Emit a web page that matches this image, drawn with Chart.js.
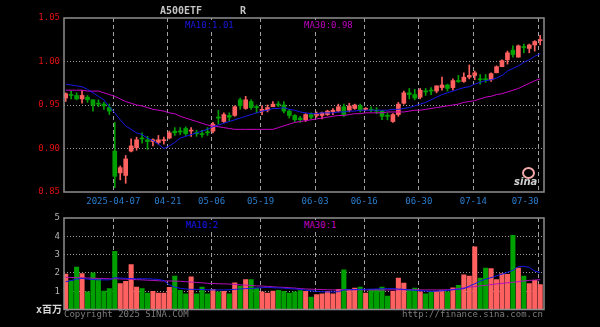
<!DOCTYPE html>
<html><head><meta charset="utf-8">
<script src="https://cdn.jsdelivr.net/npm/chart.js@4/dist/chart.umd.min.js"></script>
<style>
html,body{margin:0;padding:0;background:#000;}
#root{position:relative;width:600px;height:327px;overflow:hidden;background:#000;}
canvas{position:absolute;left:0;}
.t{position:absolute;white-space:nowrap;font-family:"DejaVu Sans Mono",monospace;font-size:9px;line-height:10px;}
.bg{background:#000;}
</style></head>
<body><div id="root">
<canvas id="c1" width="600" height="210" style="top:0"></canvas>
<canvas id="c2" width="600" height="122" style="top:205px"></canvas>
<div class="t" style="left:160px;top:6px;font-size:10px;font-weight:bold;color:#c4c4c4">A500ETF</div>
<div class="t" style="left:240px;top:6px;font-size:10px;font-weight:bold;color:#c4c4c4">R</div>
<div class="t bg" id="lbMa10" style="left:185px;top:20px;color:#1818e0"></div>
<div class="t bg" id="lbMa30" style="left:304px;top:20px;color:#c000c0"></div>
<div class="t bg" id="lbVMa10" style="left:186px;top:220px;color:#1818e0"></div>
<div class="t bg" id="lbVMa30" style="left:304px;top:220px;color:#c000c0"></div>
<div class="t" style="left:36px;top:304px;font-family:'DejaVu Sans Mono','Noto Sans CJK SC';font-size:10px;line-height:12px;color:#d8d8d8;font-weight:bold">x百万</div>
<div class="t" style="left:64px;top:309px;color:#7c7c7c">Copyright 2025 SINA.COM</div>
<div class="t" style="left:402px;top:309px;color:#7c7c7c">http://finance.sina.com.cn</div>
<div style="position:absolute;left:522px;top:167px;width:9px;height:8px;border:2px solid #f0a8a8;border-radius:50%"></div>
<div class="t" style="left:514px;top:177px;font-family:'DejaVu Sans';font-style:italic;font-weight:bold;font-size:10px;color:#cfcfcf">sina</div>
</div>
<script>
const dates = ['2025-03-24','2025-03-25','2025-03-26','2025-03-27','2025-03-28','2025-03-31',
'2025-04-01','2025-04-02','2025-04-03','2025-04-07','2025-04-08','2025-04-09','2025-04-10','2025-04-11',
'2025-04-14','2025-04-15','2025-04-16','2025-04-17','2025-04-18','2025-04-21','2025-04-22','2025-04-23','2025-04-24','2025-04-25',
'2025-04-28','2025-04-29','2025-04-30','2025-05-06','2025-05-07','2025-05-08','2025-05-09',
'2025-05-12','2025-05-13','2025-05-14','2025-05-15','2025-05-16','2025-05-19','2025-05-20','2025-05-21','2025-05-22','2025-05-23',
'2025-05-26','2025-05-27','2025-05-28','2025-05-29','2025-05-30','2025-06-03','2025-06-04','2025-06-05','2025-06-06',
'2025-06-09','2025-06-10','2025-06-11','2025-06-12','2025-06-13','2025-06-16','2025-06-17','2025-06-18','2025-06-19','2025-06-20',
'2025-06-23','2025-06-24','2025-06-25','2025-06-26','2025-06-27','2025-06-30','2025-07-01','2025-07-02','2025-07-03','2025-07-04',
'2025-07-07','2025-07-08','2025-07-09','2025-07-10','2025-07-11','2025-07-14','2025-07-15','2025-07-16','2025-07-17','2025-07-18',
'2025-07-21','2025-07-22','2025-07-23','2025-07-24','2025-07-25','2025-07-28','2025-07-29','2025-07-30'];

const open = [0.958,0.962,0.961,0.957,0.959,0.956,0.952,0.951,0.947,0.897,
0.872,0.869,0.897,0.901,0.912,0.910,0.908,0.907,0.909,0.912,
0.920,0.920,0.923,0.920,0.918,0.917,0.919,0.920,0.936,0.931,
0.938,0.938,0.956,0.946,0.954,0.948,0.943,0.944,0.948,0.951,
0.950,0.943,0.938,0.935,0.933,0.939,0.938,0.938,0.939,0.942,
0.943,0.948,0.944,0.946,0.949,0.945,0.945,0.944,0.943,0.938,
0.931,0.939,0.952,0.964,0.962,0.959,0.966,0.967,0.966,0.970,
0.973,0.970,0.978,0.977,0.982,0.984,0.980,0.980,0.979,0.987,
0.994,1.002,1.013,1.005,1.017,1.015,1.019,1.024];

const close = [0.963,0.961,0.957,0.961,0.956,0.950,0.951,0.949,0.943,0.868,
0.878,0.888,0.903,0.910,0.911,0.908,0.910,0.910,0.910,0.918,
0.918,0.919,0.917,0.921,0.917,0.916,0.918,0.928,0.935,0.939,
0.936,0.948,0.949,0.956,0.947,0.947,0.945,0.947,0.951,0.950,
0.943,0.938,0.933,0.933,0.939,0.936,0.940,0.941,0.943,0.944,
0.948,0.939,0.949,0.950,0.944,0.946,0.944,0.943,0.937,0.937,
0.939,0.951,0.964,0.962,0.958,0.967,0.965,0.966,0.972,0.973,
0.969,0.978,0.977,0.982,0.984,0.987,0.979,0.979,0.986,0.994,
1.001,1.010,1.008,1.018,1.016,1.019,1.023,1.025];

const high = [0.964,0.966,0.964,0.967,0.961,0.956,0.956,0.953,0.951,0.930,
0.880,0.892,0.911,0.913,0.918,0.914,0.911,0.915,0.913,0.920,
0.924,0.924,0.925,0.924,0.921,0.921,0.924,0.930,0.944,0.941,
0.941,0.949,0.958,0.960,0.956,0.950,0.949,0.950,0.954,0.954,
0.954,0.945,0.939,0.937,0.940,0.941,0.942,0.942,0.944,0.946,
0.951,0.951,0.952,0.951,0.951,0.947,0.948,0.947,0.944,0.941,
0.940,0.953,0.966,0.969,0.968,0.969,0.969,0.970,0.972,0.982,
0.974,0.980,0.984,0.987,0.996,0.989,0.985,0.985,0.987,0.995,
1.002,1.012,1.018,1.019,1.020,1.020,1.024,1.030];

const low = [0.954,0.957,0.956,0.952,0.953,0.943,0.948,0.945,0.939,0.855,
0.864,0.860,0.896,0.898,0.906,0.899,0.903,0.905,0.905,0.911,
0.915,0.916,0.915,0.914,0.914,0.913,0.915,0.918,0.928,0.930,
0.932,0.937,0.945,0.945,0.945,0.941,0.939,0.942,0.948,0.948,
0.941,0.935,0.931,0.930,0.931,0.934,0.936,0.934,0.938,0.939,
0.942,0.937,0.942,0.945,0.942,0.944,0.942,0.940,0.933,0.933,
0.930,0.937,0.951,0.957,0.956,0.957,0.961,0.962,0.964,0.967,
0.966,0.967,0.976,0.976,0.980,0.979,0.974,0.976,0.977,0.987,
0.994,0.997,1.005,1.005,1.010,1.010,1.012,1.019];

const ma10 = [0.974,0.973,0.972,0.971,0.968,0.964,0.960,0.956,0.948,0.941,
0.933,0.926,0.922,0.918,0.916,0.912,0.909,0.905,0.900,0.903,
0.907,0.912,0.914,0.916,0.918,0.920,0.922,0.925,0.927,0.929,
0.931,0.933,0.935,0.937,0.939,0.941,0.943,0.944,0.946,0.946,
0.947,0.945,0.944,0.942,0.941,0.940,0.940,0.941,0.941,0.941,
0.942,0.942,0.943,0.943,0.944,0.944,0.944,0.944,0.944,0.944,
0.945,0.945,0.946,0.947,0.949,0.951,0.953,0.956,0.959,0.962,
0.964,0.966,0.968,0.970,0.971,0.974,0.976,0.978,0.979,0.981,
0.984,0.989,0.992,0.995,0.999,1.002,1.006,1.009];

const ma30 = [0.967,0.967,0.967,0.967,0.966,0.966,0.966,0.964,0.962,0.960,
0.957,0.954,0.952,0.950,0.949,0.947,0.945,0.944,0.943,0.941,
0.940,0.937,0.935,0.933,0.931,0.929,0.927,0.926,0.925,0.924,
0.923,0.922,0.922,0.922,0.922,0.922,0.922,0.922,0.922,0.924,
0.926,0.928,0.930,0.931,0.932,0.933,0.934,0.935,0.936,0.937,
0.938,0.938,0.939,0.940,0.940,0.941,0.941,0.941,0.941,0.942,
0.942,0.942,0.942,0.943,0.944,0.944,0.945,0.946,0.947,0.948,
0.949,0.950,0.951,0.953,0.954,0.955,0.957,0.959,0.960,0.962,
0.963,0.965,0.967,0.969,0.972,0.975,0.978,0.980];

const volume = [1.94,1.56,2.32,1.96,0.96,2.01,1.68,1.01,1.14,3.18,
1.41,1.54,2.45,1.23,1.14,0.90,0.99,0.90,0.90,1.21,
1.83,1.05,0.86,1.78,0.86,1.23,0.86,1.10,0.96,0.99,
0.86,1.46,1.28,1.63,1.63,1.17,0.96,0.90,1.01,1.05,
0.99,0.90,0.96,1.03,0.99,0.68,0.81,0.86,0.99,0.86,
1.10,2.17,1.10,1.17,1.23,0.90,1.10,1.10,1.23,0.74,
0.99,1.72,1.45,1.10,1.17,0.96,0.86,0.96,0.99,1.05,
0.96,1.19,1.32,1.90,1.83,3.42,1.72,2.27,2.23,1.63,
1.96,1.92,4.05,2.27,1.83,1.41,1.60,1.36];

const volMa10 = [1.52,1.58,1.66,1.70,1.66,1.64,1.62,1.62,1.62,1.74,
1.72,1.70,1.69,1.68,1.68,1.68,1.66,1.64,1.58,1.35,
1.22,1.16,1.12,1.10,1.10,1.09,1.08,1.07,1.07,1.07,
1.08,1.10,1.12,1.14,1.15,1.17,1.19,1.21,1.19,1.18,
1.17,1.14,1.12,1.10,1.06,1.02,0.99,0.97,0.96,0.96,
0.97,1.07,1.08,1.09,1.10,1.10,1.11,1.12,1.13,1.14,
1.14,1.12,1.10,1.07,1.05,1.03,1.01,0.99,1.00,1.02,
1.05,1.08,1.11,1.14,1.28,1.40,1.55,1.66,1.74,1.84,
1.93,2.03,2.14,2.34,2.36,2.30,2.10,2.02];

const volMa30 = [1.76,1.75,1.74,1.73,1.72,1.71,1.70,1.69,1.68,1.68,
1.67,1.66,1.65,1.63,1.62,1.60,1.59,1.57,1.56,1.56,
1.55,1.54,1.52,1.50,1.48,1.46,1.43,1.42,1.41,1.40,
1.39,1.37,1.35,1.33,1.31,1.29,1.28,1.26,1.24,1.22,
1.21,1.19,1.17,1.14,1.12,1.11,1.10,1.09,1.08,1.07,
1.07,1.08,1.08,1.08,1.08,1.07,1.07,1.07,1.07,1.07,
1.07,1.08,1.08,1.08,1.08,1.07,1.07,1.07,1.07,1.07,
1.08,1.10,1.14,1.18,1.22,1.25,1.29,1.32,1.36,1.40,
1.43,1.46,1.49,1.52,1.56,1.59,1.61,1.63];

const tickDates = ['2025-04-07','2025-04-21','2025-05-06','2025-05-19','2025-06-03','2025-06-16','2025-06-30','2025-07-14','2025-07-30'];
const tickLabels = ['2025-04-07','04-21','05-06','05-19','06-03','06-16','06-30','07-14','07-30'];
const priceTicks = [0.85,0.90,0.95,1.00,1.05];
const volTicks = [0,1,2,3,4,5];

const UP = '#ff6060', DOWN = '#00a000';
const tickIdx = tickDates.map(d => dates.indexOf(d));
const colorFn = ctx => close[ctx.dataIndex] >= open[ctx.dataIndex] ? UP : DOWN;
const MONO = '"DejaVu Sans Mono", monospace';
const XMIN = -0.31, XMAX = 87.7;

document.getElementById('lbMa10').textContent = 'MA10:' + ma10[ma10.length-1].toFixed(2);
document.getElementById('lbMa30').textContent = 'MA30:' + ma30[ma30.length-1].toFixed(2);
document.getElementById('lbVMa10').textContent = 'MA10:' + Math.floor(volMa10[volMa10.length-1]);
document.getElementById('lbVMa30').textContent = 'MA30:' + Math.floor(volMa30[volMa30.length-1]);

const frame = {
  id: 'frame',
  afterDraw(chart) {
    const a = chart.chartArea, c = chart.ctx;
    c.save();
    c.strokeStyle = '#8e8e8e';
    c.lineWidth = 1.5;
    c.strokeRect(a.left, a.top, a.right - a.left, a.bottom - a.top);
    c.restore();
  }
};

function xScale(showLabels, h) {
  return {
    type: 'linear', min: XMIN, max: XMAX, bounds: 'data', offset: false,
    afterBuildTicks(s) { s.ticks = tickIdx.map(v => ({ value: v - 0.26 })); },
    afterFit(s) { s.height = h; },
    grid: { color: '#a0a0a0', lineWidth: 1, drawTicks: false, offset: false },
    border: { display: false, dash: [4, 3] },
    ticks: {
      display: showLabels, autoSkip: false, maxRotation: 0, padding: 4,
      color: '#2a7ccc', font: { family: MONO, size: 9 },
      // the last date label is kept inside the plot, as in the original
      callback: (v, i) => i === tickLabels.length - 1 ? tickLabels[i] + '     ' : tickLabels[i]
    }
  };
}

function yScale(min, max, list, fmt, col) {
  return {
    min, max,
    afterBuildTicks(s) { s.ticks = list.map(v => ({ value: v })); },
    afterFit(s) { s.width = 64; },
    grid: {
      drawTicks: false, lineWidth: 1,
      color: ctx => (ctx.tick && (ctx.tick.value === min || ctx.tick.value === max)) ? 'rgba(0,0,0,0)' : '#9a9a9a'
    },
    border: { display: false, dash: [1, 2] },
    ticks: { padding: 4, color: col, font: { family: MONO, size: 9 }, callback: fmt }
  };
}

const pts = arr => arr.map((v, i) => ({ x: i, y: v }));

new Chart(document.getElementById('c1'), {
  type: 'bar',
  data: {
    datasets: [
      { type: 'line', data: pts(ma10), borderColor: '#1818e8', borderWidth: 1, pointRadius: 0, tension: 0, order: 0 },
      { type: 'line', data: pts(ma30), borderColor: '#c800c8', borderWidth: 1, pointRadius: 0, tension: 0, order: 0 },
      { type: 'bar', data: dates.map((d, i) => ({ x: i, y: [Math.min(open[i], close[i]), Math.max(open[i], close[i])] })),
        backgroundColor: colorFn, borderWidth: 0, barThickness: 4, minBarLength: 1, grouped: false, order: 1 },
      { type: 'bar', data: dates.map((d, i) => ({ x: i, y: [low[i], high[i]] })),
        backgroundColor: colorFn, borderWidth: 0, barThickness: 1, grouped: false, order: 2 }
    ]
  },
  options: {
    responsive: false, animation: false, devicePixelRatio: 1, events: [],
    layout: { padding: { top: 18, right: 56, bottom: 0, left: 0 } },
    plugins: { legend: { display: false }, tooltip: { enabled: false } },
    scales: {
      x: xScale(true, 18),
      y: yScale(0.85, 1.05, priceTicks, v => v.toFixed(2), '#e01010')
    }
  },
  plugins: [frame]
});

new Chart(document.getElementById('c2'), {
  type: 'bar',
  data: {
    datasets: [
      { type: 'line', data: pts(volMa10), borderColor: '#1818e8', borderWidth: 1, pointRadius: 0, tension: 0, order: 0 },
      { type: 'line', data: pts(volMa30), borderColor: '#b010b8', borderWidth: 1, pointRadius: 0, tension: 0, order: 0 },
      { type: 'bar', data: pts(volume), backgroundColor: colorFn, borderWidth: 0, barThickness: 4.4, grouped: false, order: 1 }
    ]
  },
  options: {
    responsive: false, animation: false, devicePixelRatio: 1, events: [],
    layout: { padding: { top: 13, right: 56, bottom: 0, left: 0 } },
    plugins: { legend: { display: false }, tooltip: { enabled: false } },
    scales: {
      x: xScale(false, 17.5),
      y: yScale(0, 5, volTicks, v => (v === 0 ? '' : String(v)), '#b4b4b4')
    }
  },
  plugins: [frame]
});
</script>
</body></html>
